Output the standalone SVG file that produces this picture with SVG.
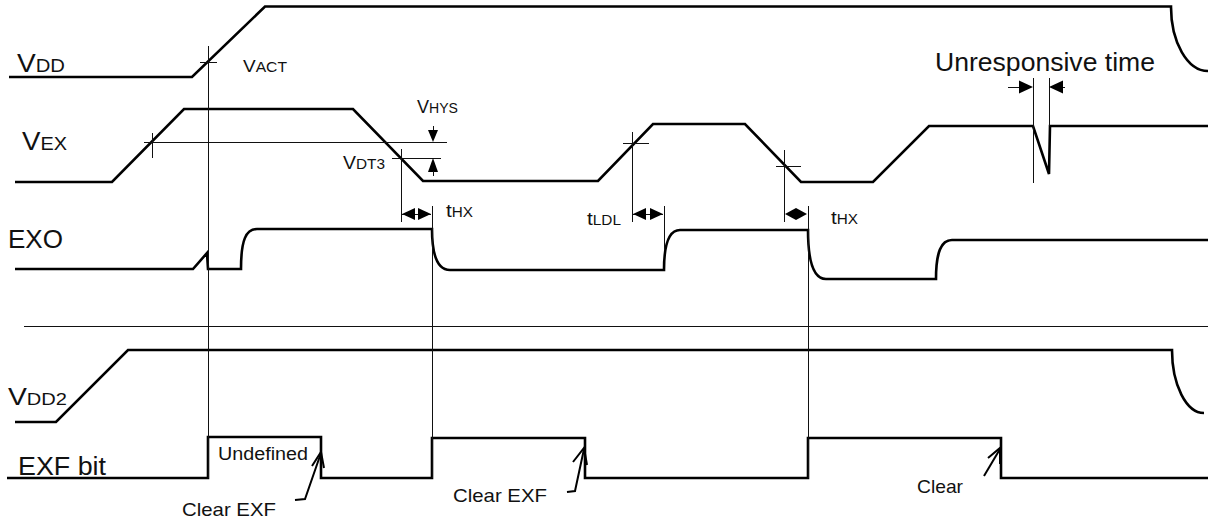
<svg xmlns="http://www.w3.org/2000/svg" width="1208" height="521" viewBox="0 0 1208 521">
<style>
.sig{fill:none;stroke:#000;stroke-width:2.6;stroke-linejoin:miter}
.thin{fill:none;stroke:#111;stroke-width:1;shape-rendering:crispEdges}
.ah{fill:#000;stroke:none}
.ptr{fill:none;stroke:#000;stroke-width:2;stroke-linecap:butt}
text{font-family:"Liberation Sans",Arial,sans-serif;fill:#111}
.big{font-size:25px}
</style>
<rect width="1208" height="521" fill="#fff"/>

<g id="vdd">
<path class="sig" d="M9,77 L192,77 L265,6.5 L1171,6.5 A37,64 0 0 0 1208,71"/>
<text x="17" y="72" textLength="48" lengthAdjust="spacingAndGlyphs"><tspan font-size="25">V</tspan><tspan font-size="18">DD</tspan></text>
</g>

<g id="vex">
<path class="sig" d="M15,182 L112,182 L184,109 L353,109 L423,181 L598,181 L653,124 L745,124 L801,182 L873,182 L929,126 L1033,126 L1049,174 L1050,126 L1208,126"/>
<text x="22" y="150" textLength="45" lengthAdjust="spacingAndGlyphs"><tspan font-size="25">V</tspan><tspan font-size="18">EX</tspan></text>
</g>

<g id="exo">
<path class="sig" d="M15,269 L193,269 L207,253 L208,269 L241,269 C241,240 246,229 257,229 L432,229 C432,256 438,270 450,270 L664,270 C664,245 669,230 680,230 L808,230 C808,262 814,279 826,279 L936,279 C936,252 941,240 952,240 L1208,240"/>
<text class="big" x="8" y="248" textLength="55" lengthAdjust="spacingAndGlyphs">EXO</text>
</g>

<g id="separator">
<line class="thin" x1="24" y1="326" x2="1208" y2="326" stroke="#444"/>
</g>

<g id="vdd2">
<path class="sig" d="M15,422 L56,422 L128,350 L1172,350 A32,63 0 0 0 1204,413"/>
<text x="8" y="405" textLength="59" lengthAdjust="spacingAndGlyphs"><tspan font-size="24">V</tspan><tspan font-size="17">DD2</tspan></text>
</g>

<g id="exf">
<path class="sig" d="M7,478 L208,478 L208,437 L321,437 L321,478 L432,478 L432,438 L585,438 L585,478 L808,478 L808,438 L1001,438 L1001,478 L1208,478"/>
<text class="big" x="18" y="475" textLength="88" lengthAdjust="spacingAndGlyphs">EXF bit</text>
<text x="218" y="460" font-size="18" textLength="90" lengthAdjust="spacingAndGlyphs">Undefined</text>
</g>

<g id="connectors">
<line class="thin" x1="208" y1="46" x2="208" y2="478"/>
<line class="thin" x1="200" y1="62" x2="217" y2="62"/>
<line class="thin" x1="144" y1="142" x2="447" y2="142"/>
<line class="thin" x1="152" y1="133" x2="152" y2="158"/>
<line class="thin" x1="392" y1="158" x2="441" y2="158"/>
<line class="thin" x1="401" y1="149" x2="401" y2="222"/>
<line class="thin" x1="432" y1="206" x2="432" y2="478"/>
<line class="thin" x1="632" y1="132" x2="632" y2="222"/>
<line class="thin" x1="623" y1="143" x2="649" y2="143"/>
<line class="thin" x1="664" y1="206" x2="664" y2="250"/>
<line class="thin" x1="784" y1="150" x2="784" y2="222"/>
<line class="thin" x1="776" y1="166" x2="801" y2="166"/>
<line class="thin" x1="808" y1="206" x2="808" y2="478"/>
<line class="thin" x1="1033" y1="78" x2="1033" y2="183"/>
<line class="thin" x1="1049" y1="78" x2="1049" y2="126"/>

<line class="thin" x1="433" y1="126" x2="433" y2="131"/>
<polygon class="ah" points="428,130 438,130 433,142"/>
<polygon class="ah" points="428,172 438,172 433,158"/>
<line class="thin" x1="433" y1="171" x2="433" y2="176"/>

<line class="thin" x1="402" y1="214" x2="431" y2="214"/>
<polygon class="ah" points="402,214 415,208 415,220"/>
<polygon class="ah" points="431,214 418,208 418,220"/>
<line class="thin" x1="633" y1="214" x2="663" y2="214"/>
<polygon class="ah" points="633,214 646,208 646,220"/>
<polygon class="ah" points="663,214 650,208 650,220"/>
<polygon class="ah" points="785,214 796,208 796,220"/>
<polygon class="ah" points="807,214 796,208 796,220"/>

<line class="thin" x1="1008" y1="87" x2="1022" y2="87"/>
<polygon class="ah" points="1033,87 1019,80.5 1019,93.5"/>
<line class="thin" x1="1060" y1="87" x2="1065" y2="87"/>
<polygon class="ah" points="1049,87 1063,80.5 1063,93.5"/>

<polyline class="ptr" points="295,500 305,499 321,453"/>
<polyline class="ptr" points="312,466 321,452 324,468"/>
<polyline class="ptr" points="567,492 575,491 584,449"/>
<polyline class="ptr" points="573,462 584,448 587,465"/>
<polyline class="ptr" points="984,476 1000,449"/>
<polyline class="ptr" points="988,458 1000,448 1000,464"/>
</g>

<g id="labels">
<text x="243" y="72" textLength="44" lengthAdjust="spacingAndGlyphs"><tspan font-size="17">V</tspan><tspan font-size="14">ACT</tspan></text>
<text x="417" y="113" textLength="41" lengthAdjust="spacingAndGlyphs"><tspan font-size="18">V</tspan><tspan font-size="14">HYS</tspan></text>
<text x="343" y="169" textLength="42" lengthAdjust="spacingAndGlyphs"><tspan font-size="19">V</tspan><tspan font-size="15">DT3</tspan></text>
<text x="446" y="217" textLength="27" lengthAdjust="spacingAndGlyphs"><tspan font-size="19">t</tspan><tspan font-size="14">HX</tspan></text>
<text x="587" y="225" textLength="34" lengthAdjust="spacingAndGlyphs"><tspan font-size="19">t</tspan><tspan font-size="14">LDL</tspan></text>
<text x="831" y="224" textLength="27" lengthAdjust="spacingAndGlyphs"><tspan font-size="19">t</tspan><tspan font-size="14">HX</tspan></text>
<text class="big" x="935" y="71" textLength="220" lengthAdjust="spacingAndGlyphs">Unresponsive time</text>
<text x="182" y="516" font-size="19" textLength="94" lengthAdjust="spacingAndGlyphs">Clear EXF</text>
<text x="453" y="502" font-size="19" textLength="94" lengthAdjust="spacingAndGlyphs">Clear EXF</text>
<text x="917" y="493" font-size="19" textLength="46" lengthAdjust="spacingAndGlyphs">Clear</text>
</g>
</svg>
